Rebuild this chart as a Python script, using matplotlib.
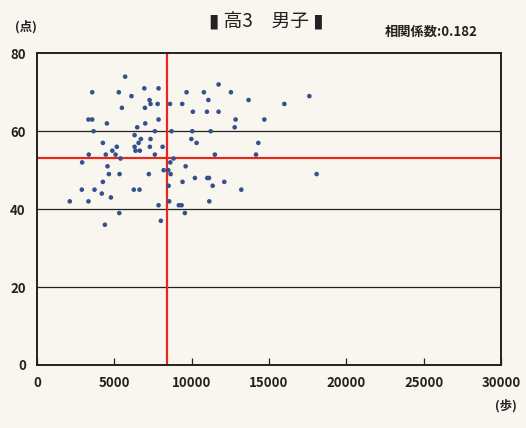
import matplotlib.pyplot as plt

# 歩数と点数（高3 男子）
steps = [5700, 3570, 5290, 6940, 7860, 6110, 7280, 7340, 7800, 5490,
         6980, 8600, 9390, 9670, 3330, 3570, 4520, 7000, 7860, 6480,
         3660, 7620, 8700, 6310, 6720, 7340, 6570, 4260, 5160, 8120,
         6310, 4870, 6370, 6650, 7300, 3350, 4450, 5080, 7620, 5400,
         8830, 2920, 8620, 9610, 4560, 8490, 8190, 8640, 4650, 5340,
         7230, 4260, 9410, 8510, 2900, 3720, 6260, 6630, 4190, 4780,
         2120, 3330, 8550, 7860, 9170, 9350, 9560, 5320, 8010, 4390,
         11740, 10790, 12540, 11080, 13680, 17610, 15990, 10080, 10990, 11740,
         12840, 14700, 12780, 10040, 11230, 9980, 10320, 14310, 11500, 14160,
         10210, 11010, 11120, 12110, 11360, 13210, 18080, 11140]
scores = [74, 70, 70, 71, 71, 69, 68, 67, 67, 66,
          66, 67, 67, 70, 63, 63, 62, 62, 63, 61,
          60, 60, 60, 59, 58, 58, 57, 57, 56, 56,
          56, 55, 55, 55, 56, 54, 54, 54, 54, 53,
          53, 52, 52, 51, 51, 50, 50, 49, 49, 49,
          49, 47, 47, 46, 45, 45, 45, 45, 44, 43,
          42, 42, 42, 41, 41, 41, 39, 39, 37, 36,
          72, 70, 70, 68, 68, 69, 67, 65, 65, 65,
          63, 63, 61, 60, 60, 58, 57, 57, 54, 54,
          48, 48, 48, 47, 46, 45, 49, 42]

mean_steps = 8400
mean_score = 53
corr = 0.182

x_ticks = [0, 5000, 10000, 15000, 20000, 25000, 30000]
y_ticks = [0, 20, 40, 60, 80]

paper = '#f8f6ee'
plt.rcParams['font.family'] = ['Noto Sans CJK JP', 'DejaVu Sans']

fig = plt.figure(figsize=(5.26, 4.28), dpi=100, facecolor=paper)
ax = fig.add_axes([0.0703, 0.1472, 0.8822, 0.7283], facecolor=paper)

for y in [20, 40, 60]:
    ax.axhline(y, color='#222222', linewidth=0.9, zorder=1)

ax.scatter(steps, scores, s=11, color='#34508f', edgecolors='none', zorder=3)

ax.axvline(mean_steps, color='#e8261c', linewidth=1.6, zorder=2)
ax.axhline(mean_score, color='#e8261c', linewidth=1.6, zorder=2)

ax.set_xlim(0, 30000)
ax.set_ylim(0, 80)
ax.set_xticks(x_ticks)
ax.set_yticks(y_ticks)
ax.tick_params(axis='x', direction='in', length=5, width=0.9, pad=8,
               labelsize=9.5, colors='#222222')
ax.tick_params(axis='y', length=0, pad=8, labelsize=9.5, colors='#222222')
for lab in ax.get_xticklabels() + ax.get_yticklabels():
    lab.set_fontweight('bold')
for sp in ax.spines.values():
    sp.set_linewidth(1.4)
    sp.set_color('#222222')

fig.text(0.506, 0.948, '▮ 高3　男子 ▮', ha='center', va='center',
         fontsize=13.5, color='#222222')
fig.text(0.82, 0.925, '相関係数:' + str(corr), ha='center', va='center',
         fontsize=9.5, fontweight='bold', color='#222222')
fig.text(0.05, 0.937, '(点)', ha='center', va='center',
         fontsize=9, fontweight='bold', color='#222222')
fig.text(0.962, 0.052, '(歩)', ha='center', va='center',
         fontsize=9, fontweight='bold', color='#222222')

fig.savefig('out.png', dpi=100, facecolor=paper)
